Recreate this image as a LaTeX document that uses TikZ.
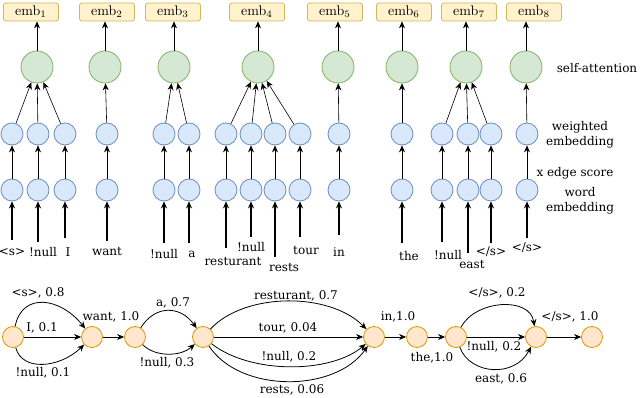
\documentclass[tikz,border=0pt]{standalone}
\usepackage{fontspec}
\usepackage{graphicx}
\newfontfamily\dv{DejaVu Serif}
\usetikzlibrary{arrows.meta}
\definecolor{embfill}{HTML}{FFF2CC}\definecolor{embdraw}{HTML}{D6B656}
\definecolor{attnfill}{HTML}{D5E8D4}\definecolor{attndraw}{HTML}{82B366}
\definecolor{wfill}{HTML}{DAE8FC}\definecolor{wdraw}{HTML}{6C8EBF}
\definecolor{latfill}{HTML}{FFE6CC}\definecolor{latdraw}{HTML}{D79B00}
\newcommand\embtxt[1]{\scalebox{1.4}{emb$_{#1}$}}
\begin{document}
\begin{tikzpicture}[x=1pt,y=1pt,
  embbox/.style={draw=embdraw, fill=embfill, rounded corners=2.5pt, minimum width=55pt, minimum height=18pt, inner sep=0pt, line width=0.8pt},
  attn/.style={circle, draw=attndraw, fill=attnfill, minimum size=32pt, inner sep=0pt, line width=0.8pt},
  wemb/.style={circle, draw=wdraw, fill=wfill, minimum size=22pt, inner sep=0pt, line width=0.8pt},
  lat/.style={circle, draw=latdraw, fill=latfill, minimum size=21pt, inner sep=0pt, line width=0.8pt},
  txt/.style={font=\dv\fontsize{12}{14}\selectfont, inner sep=0pt, align=center},
  arr/.style={-{Stealth[length=7pt,width=6pt]}, line width=0.8pt},
  inarr/.style={-{Stealth[length=7pt,width=6pt]}, line width=1.3pt},
  garr/.style={-{Stealth[length=7pt,width=6pt]}, line width=0.6pt}]
\useasboundingbox (0,0) rectangle (640,-398);
% emb boxes
\foreach \i/\x in {1/31,2/107,3/173,4/257,5/335,6/404,7/469,8/534}
  \node[embbox] (emb\i) at (\x,-12) {\embtxt{\i}};
% self-attention circles
\foreach \i/\x in {1/37,2/105,3/174,4/258,5/338,6/402,7/466,8/526}{
  \node[attn] (g\i) at (\x,-67) {};
  \draw[arr] (g\i) -- (g\i |- emb\i.south);
}
% blue columns: name/x/start y
\foreach \n/\x/\s in {a/12/240,b/38/242,c/65/238,d/107/241,e/164/243,f/189/243,g/226/248,h/251/237,i/275/257,j/300/237,k/339/235,l/402/243,m/442/242,o/468/253,p/491/243,q/527/238}{
  \node[wemb] (w\n) at (\x,-134) {};
  \node[wemb] (e\n) at (\x,-190) {};
  \coordinate (s\n) at (\x,-\s);
  \draw[arr] (e\n) -- (w\n);
  \draw[inarr] (s\n) -- (e\n);
}
% to self-attention
\foreach \n/\g in {a/1,b/1,c/1,d/2,e/3,f/3,g/4,h/4,i/4,j/4,k/5,l/6,m/7,o/7,p/7,q/8}
  \draw[garr] (w\n) -- (g\g);
% word labels
\node[txt] (t1) at (12,-252) {<s>};
\node[txt] (t2) at (43,-252) {!null};
\node[txt] (t3) at (68,-252) {I};
\node[txt] (t4) at (107,-252) {want};
\node[txt] (t5) at (164,-254) {!null};
\node[txt] (t6) at (192,-254) {a};
\node[txt] (t7) at (233,-262) {resturant};
\node[txt] (t8) at (251,-247) {!null};
\node[txt] (t9) at (284,-268) {rests};
\node[txt] (t10) at (306,-251) {tour};
\node[txt] (t11) at (339,-252) {in};
\node[txt] (t12) at (409,-256) {the};
\node[txt] (t13) at (448,-255) {!null};
\node[txt] (t14) at (472,-265) {east};
\node[txt] (t15) at (491,-252) {</s>};
\node[txt] (t16) at (527,-248) {</s>};
% right labels
\node[txt] (r1) at (597,-68) {self-attention};
\node[txt, font=\dv\fontsize{12}{15.5}\selectfont] (r2) at (580,-135) {weighted\\embedding};
\node[txt] (r3) at (575,-173) {x edge score};
\node[txt, font=\dv\fontsize{12}{15.5}\selectfont] (r4) at (580,-201) {word\\embedding};
% lattice
\foreach \i/\x in {1/13,2/92,3/135,4/203,5/374,6/417,7/456,8/536,9/592}
  \node[lat] (n\i) at (\x,-337) {};
\draw[arr] (n1) .. controls (22,-292) and (60,-297) .. (n2);
\draw[arr] (n1) -- (n2);
\draw[arr] (n1) .. controls (22,-372) and (60,-368) .. (n2);
\draw[arr] (n2) -- (n3);
\draw[arr] (n3) .. controls (155,-305) and (180,-305) .. (n4);
\draw[arr] (n3) .. controls (155,-357) and (180,-357) .. (n4);
\draw[arr] (n4) .. controls (245,-292) and (330,-292) .. (n5);
\draw[arr] (n4) -- (n5);
\draw[arr] (n4) .. controls (250,-374) and (330,-374) .. (n5);
\draw[arr] (n4) .. controls (240,-393) and (335,-393) .. (n5);
\draw[arr] (n5) -- (n6);
\draw[arr] (n6) -- (n7);
\draw[arr] (n7) .. controls (475,-300) and (530,-296) .. (n8);
\draw[arr] (n7) -- (n8);
\draw[arr] (n7) .. controls (470,-375) and (515,-378) .. (n8);
\draw[arr] (n8) -- (n9);
% lattice labels
\node[txt] (l1) at (38,-293) {<s>, 0.8};
\node[txt] (l2) at (42,-328) {I, 0.1};
\node[txt] (l3) at (43,-373) {!null, 0.1};
\node[txt] (l4) at (111,-317) {want, 1.0};
\node[txt] (l5) at (173,-303) {a, 0.7};
\node[txt] (l6) at (167,-363) {!null, 0.3};
\node[txt] (l7) at (296,-296) {resturant, 0.7};
\node[txt] (l8) at (288,-328) {tour, 0.04};
\node[txt] (l9) at (289,-357) {!null, 0.2};
\node[txt] (l10) at (292,-390) {rests, 0.06};
\node[txt] (l11) at (398,-317) {in,1.0};
\node[txt] (l12) at (432,-358) {the,1.0};
\node[txt] (l13) at (497,-293) {</s>, 0.2};
\node[txt] (l14) at (494,-347) {!null, 0.2};
\node[txt] (l15) at (501,-379) {east, 0.6};
\node[txt] (l16) at (570,-317) {</s>, 1.0};
\end{tikzpicture}
\end{document}
